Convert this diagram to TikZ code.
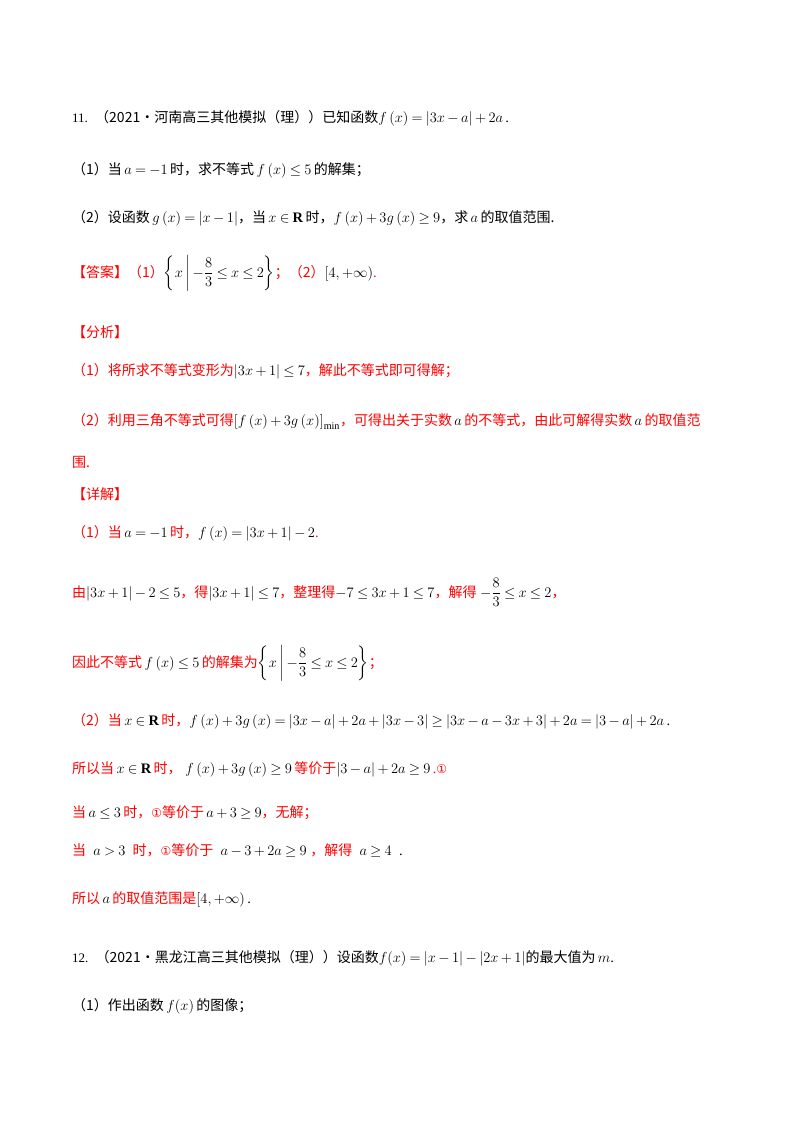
\RequirePackage{fix-cm}
\documentclass[tikz,border=0pt]{standalone}
\usepackage{amsmath,amssymb}
\usepackage{fontspec}
\setmainfont{Liberation Serif}
\newfontfamily\cjk{Noto Sans CJK SC}
\newcommand{\zh}[1]{{\fontsize{14}{16}\selectfont\cjk #1}}
\newcommand{\rz}[1]{{\color{red}\fontsize{14}{16}\selectfont\cjk #1}}
\newcommand{\circone}{{\fontspec{DejaVu Sans}\fontsize{12}{14}\selectfont ①}}
\medmuskip=3mu plus 1mu minus 2mu
\thickmuskip=4mu plus 2mu minus 2mu
\begin{document}
\begin{tikzpicture}[x=1pt,y=-1pt,
  line/.style={anchor=base west,inner sep=0pt,font=\fontsize{14.5}{18}\selectfont}]
\useasboundingbox[fill=white] (0,0) rectangle (800,1132);
\node[line] (l1) at (72,122) {{\fontsize{13}{16}\selectfont 11.}\ \ \zh{（2021·河南高三其他模拟（理））已知函数}$f\left(x\right)=\left|3x-a\right|+2a$\,.};
\node[line] (l2) at (72,174) {\zh{（1）当}$\,a=-1\,$\zh{时，求不等式}$\,f\left(x\right)\le 5\,$\zh{的解集；}};
\node[line] (l3) at (72,222) {\zh{（2）设函数}$\,g\left(x\right)=\left|x-1\right|$\zh{，当}$\,x\in\mathbf{R}\,$\zh{时，}$f\left(x\right)+3g\left(x\right)\ge 9$\zh{，求}$\,a\,$\zh{的取值范围.}};
\node[line] (l4) at (72,277) {\rz{【答案】（1）}$\left\{x\,\middle|\,-\dfrac{8}{3}\le x\le 2\right\}$\rz{；（2）}$\left[4,+\infty\right)$\textcolor{red}{.}};
\node[line] (l5) at (72,337) {\rz{【分析】}};
\node[line] (l6) at (72,375) {\rz{（1）将所求不等式变形为}$\left|3x+1\right|\le 7$\rz{，解此不等式即可得解；}};
\node[line] (l7) at (72,425) {\rz{（2）利用三角不等式可得}$\left[f\left(x\right)+3g\left(x\right)\right]_{\min}$\rz{，可得出关于实数}$\,a\,$\rz{的不等式，由此可解得实数}$\,a\,$\rz{的取值范}};
\node[line] (l8) at (72,467) {\rz{围.}};
\node[line] (l9) at (72,499) {\rz{【详解】}};
\node[line] (l10) at (72,537) {\rz{（1）当}$\,a=-1\,$\rz{时，}$f\left(x\right)=\left|3x+1\right|-2$\textcolor{red}{.}};
\node[line] (l11) at (72,597) {\rz{由}$\left|3x+1\right|-2\le 5$\rz{，得}$\left|3x+1\right|\le 7$\rz{，整理得}$-7\le 3x+1\le 7$\rz{，解得}\ $-\dfrac{8}{3}\le x\le 2$\rz{，}};
\node[line] (l12) at (72,667) {\rz{因此不等式}$\,f\left(x\right)\le 5\,$\rz{的解集为}$\left\{x\,\middle|\,-\dfrac{8}{3}\le x\le 2\right\}$\rz{；}};
\node[line] (l13) at (72,725) {\rz{（2）当}$\,x\in\mathbf{R}\,$\rz{时，}$f\left(x\right)+3g\left(x\right)=\left|3x-a\right|+2a+\left|3x-3\right|\ge\left|3x-a-3x+3\right|+2a=\left|3-a\right|+2a$\,.};
\node[line] (l14) at (72,773) {\rz{所以当}$\,x\in\mathbf{R}\,$\rz{时，}\ $f\left(x\right)+3g\left(x\right)\ge 9$\,\rz{等价于}$\left|3-a\right|+2a\ge 9$\,\textcolor{red}{.\circone}};
\node[line] (l15) at (72,817) {\rz{当}$\,a\le 3\,$\rz{时，}\textcolor{red}{\circone}\rz{等价于}$\,a+3\ge 9$\rz{，无解；}};
\node[line] (l16) at (72,855) {\rz{当}\ \ $a>3$\ \ \rz{时，}\textcolor{red}{\circone}\rz{等价于}\ \ $a-3+2a\ge 9$\ \rz{，解得}\ \ $a\ge 4$\ \ .};
\node[line] (l17) at (72,903) {\rz{所以}$\,a\,$\rz{的取值范围是}$\left[4,+\infty\right)$\,.};
\node[line] (l18) at (72,962) {{\fontsize{13}{16}\selectfont 12.}\ \ \zh{（2021·黑龙江高三其他模拟（理））设函数}$f(x)=\left|x-1\right|-\left|2x+1\right|$\zh{的最大值为}$\,m$.};
\node[line] (l19) at (72,1010) {\zh{（1）作出函数}$\,f(x)\,$\zh{的图像；}};
\end{tikzpicture}
\end{document}
